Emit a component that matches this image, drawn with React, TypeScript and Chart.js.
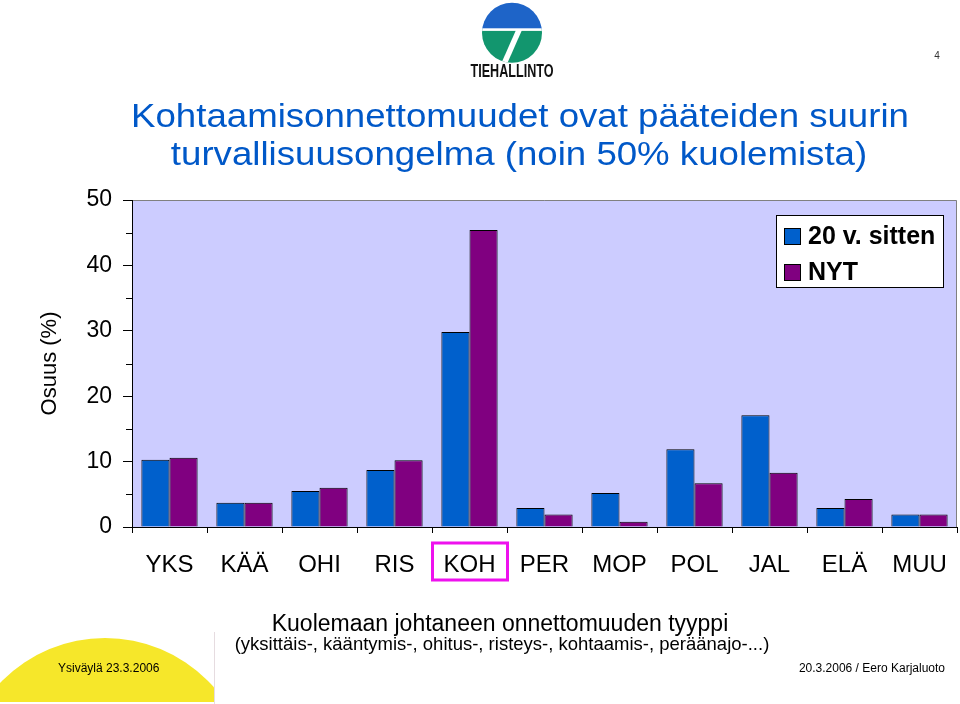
import React, { useEffect, useRef } from "react";
import { Chart, registerables } from "chart.js";

Chart.register(...registerables);

const categories = ["YKS", "KÄÄ", "OHI", "RIS", "KOH", "PER", "MOP", "POL", "JAL", "ELÄ", "MUU"];
const before20Years = [10.3, 3.7, 5.5, 8.7, 29.8, 2.9, 5.2, 11.9, 17.1, 2.9, 1.9];
const nowValues = [10.6, 3.7, 6.0, 10.2, 45.4, 1.9, 0.8, 6.7, 8.3, 4.3, 1.9];
const seriesLabels = ["20 v. sitten", "NYT"];
const highlightedCategory = "KOH";
const yMin = 0;
const yMax = 50;
const yLabelStep = 10;
const yMinorStep = 5;

const FONT = "'Liberation Sans', Arial, Helvetica, sans-serif";

const plotBackground = {
  id: "plotBackground",
  beforeDraw(chart: any) {
    const { ctx, chartArea: a } = chart;
    ctx.save();
    ctx.fillStyle = "#CCCCFF";
    ctx.fillRect(a.left, a.top, a.right - a.left, a.bottom - a.top);
    ctx.strokeStyle = "#808080";
    ctx.lineWidth = 1;
    ctx.beginPath();
    ctx.moveTo(a.left, a.top + 0.5);
    ctx.lineTo(a.right - 0.5, a.top + 0.5);
    ctx.lineTo(a.right - 0.5, a.bottom);
    ctx.stroke();
    ctx.restore();
  },
};

const minorTicks = {
  id: "minorTicks",
  afterDraw(chart: any) {
    const { ctx } = chart;
    const y = chart.scales.y;
    ctx.save();
    ctx.strokeStyle = "#000000";
    ctx.lineWidth = 1;
    y.ticks.forEach((t: any) => {
      if (t.value % yLabelStep === 0) return;
      const py = Math.round(y.getPixelForValue(t.value)) + 0.5;
      ctx.beginPath();
      ctx.moveTo(y.right - 6, py);
      ctx.lineTo(y.right, py);
      ctx.stroke();
    });
    ctx.restore();
  },
};

const boxLegend = {
  id: "boxLegend",
  afterDraw(chart: any) {
    const { ctx, chartArea: a } = chart;
    const w = 168;
    const h = 73;
    const x0 = a.right - 181;
    const y0 = a.top + 15;
    ctx.save();
    ctx.fillStyle = "#ffffff";
    ctx.fillRect(x0, y0, w, h);
    ctx.strokeStyle = "#000000";
    ctx.lineWidth = 1;
    ctx.strokeRect(x0 + 0.5, y0 + 0.5, w - 1, h - 1);
    chart.data.datasets.forEach((ds: any, i: number) => {
      const cy = y0 + 21 + i * 36;
      ctx.fillStyle = ds.backgroundColor;
      ctx.fillRect(x0 + 8, cy - 8, 17, 17);
      ctx.strokeStyle = "#000000";
      ctx.strokeRect(x0 + 8.5, cy - 7.5, 16, 16);
      ctx.fillStyle = "#000000";
      ctx.font = `bold 25px ${FONT}`;
      ctx.textBaseline = "middle";
      ctx.textAlign = "left";
      ctx.fillText(ds.label, x0 + 32, cy + 1);
    });
    ctx.restore();
  },
};

const highlightBox = {
  id: "highlightBox",
  afterDraw(chart: any) {
    const { ctx, chartArea: a } = chart;
    const idx = categories.indexOf(highlightedCategory);
    if (idx < 0) return;
    const cx = chart.scales.x.getPixelForValue(idx);
    ctx.save();
    ctx.strokeStyle = "#EE11EE";
    ctx.lineWidth = 3;
    ctx.strokeRect(cx - 37, a.bottom + 16, 75, 37);
    ctx.restore();
  },
};

function BarChart() {
  const ref = useRef<HTMLCanvasElement | null>(null);
  useEffect(() => {
    if (!ref.current) return;
    const chart = new Chart(ref.current, {
      type: "bar",
      data: {
        labels: categories,
        datasets: [
          {
            label: seriesLabels[0],
            data: before20Years,
            backgroundColor: "#0060CC",
            borderColor: "#000000",
            borderWidth: 1,
            categoryPercentage: 0.75,
            barPercentage: 1,
          },
          {
            label: seriesLabels[1],
            data: nowValues,
            backgroundColor: "#800080",
            borderColor: "#000000",
            borderWidth: 1,
            categoryPercentage: 0.75,
            barPercentage: 1,
          },
        ],
      },
      options: {
        responsive: false,
        animation: false,
        devicePixelRatio: 1,
        layout: { padding: { top: 200, right: 3, left: 0, bottom: 0 } },
        plugins: {
          legend: { display: false },
          tooltip: { enabled: false },
          title: { display: false },
        },
        scales: {
          x: {
            offset: true,
            grid: {
              offset: true,
              drawOnChartArea: false,
              drawTicks: true,
              tickLength: 6,
              color: "#000000",
            },
            border: { display: true, color: "#000000", width: 1 },
            ticks: {
              color: "#000000",
              font: { family: FONT, size: 24 },
              padding: 18,
              maxRotation: 0,
              autoSkip: false,
            },
            afterFit(scale: any) {
              scale.height = 177;
              scale.paddingLeft = 0;
              scale.paddingRight = 0;
            },
          },
          y: {
            min: yMin,
            max: yMax,
            grid: {
              drawOnChartArea: false,
              drawTicks: true,
              tickLength: 9,
              color: "#000000",
              tickColor: (c: any) =>
                c.tick && c.tick.value % yLabelStep !== 0 ? "rgba(0,0,0,0)" : "#000000",
            },
            border: { display: true, color: "#000000", width: 1 },
            ticks: {
              stepSize: yMinorStep,
              color: "#000000",
              font: { family: FONT, size: 23 },
              padding: 11,
              callback: (v: any) => (Number(v) % yLabelStep === 0 ? String(v) : ""),
            },
            title: {
              display: true,
              text: "Osuus (%)",
              color: "#000000",
              font: { family: FONT, size: 22 },
              padding: { top: 37, bottom: 0 },
            },
            afterFit(scale: any) {
              scale.width = 132;
            },
          },
        },
      },
      plugins: [plotBackground, minorTicks, boxLegend, highlightBox],
    } as any);
    return () => chart.destroy();
  }, []);
  return <canvas ref={ref} width={960} height={704} style={{ position: "absolute", left: 0, top: 0 }} />;
}

function Txt(props: {
  text: string;
  size: number;
  baseline: number;
  x: number;
  align: "left" | "center" | "right";
  color?: string;
  bold?: boolean;
  stretch?: number;
}) {
  const { text, size, baseline, x, align, color, bold, stretch } = props;
  const sx = stretch || 1;
  const style: React.CSSProperties = {
    position: "absolute",
    top: baseline - 0.8465 * size,
    fontFamily: FONT,
    fontSize: size,
    lineHeight: 1,
    whiteSpace: "nowrap",
    color: color || "#000",
    fontWeight: bold ? "bold" : "normal",
  };
  if (align === "left") {
    style.left = x;
    style.transformOrigin = "left";
    style.transform = `scaleX(${sx})`;
  } else if (align === "right") {
    style.right = 960 - x;
    style.transformOrigin = "right";
    style.transform = `scaleX(${sx})`;
  } else {
    style.left = x;
    style.transform = `translateX(-50%) scaleX(${sx})`;
  }
  return <div style={style}>{text}</div>;
}

function Logo() {
  return (
    <svg width={90} height={82} viewBox="0 0 90 82" style={{ position: "absolute", left: 467, top: 0 }}>
      <defs>
        <clipPath id="logoClip">
          <circle cx={45} cy={32.7} r={30} />
        </clipPath>
      </defs>
      <g clipPath="url(#logoClip)">
        <rect x={0} y={0} width={90} height={29} fill="#1E64C8" />
        <rect x={0} y={29} width={90} height={40} fill="#12966E" />
        <rect x={0} y={28.3} width={90} height={2.6} fill="#ffffff" />
        <polygon points="49,30 55,30 40,64 34,64" fill="#ffffff" />
      </g>
      <text
        x={45}
        y={77}
        textAnchor="middle"
        fontFamily="'Liberation Sans Narrow', 'Arial Narrow', 'Liberation Sans', Arial, sans-serif"
        fontWeight="bold"
        fontSize={19}
        textLength={83}
        lengthAdjust="spacingAndGlyphs"
        fill="#111"
      >
        TIEHALLINTO
      </text>
    </svg>
  );
}

function Footer() {
  return (
    <>
      <svg width={220} height={80} viewBox="0 0 220 80" style={{ position: "absolute", left: 0, top: 624 }}>
        <defs>
          <clipPath id="footClip">
            <rect x={0} y={0} width={214} height={78} />
          </clipPath>
        </defs>
        <circle cx={105} cy={159} r={145} fill="#F6E72A" clipPath="url(#footClip)" />
        <line x1={214.5} y1={8} x2={214.5} y2={80} stroke="#E6DCE0" strokeWidth={1} />
      </svg>
      <Txt text="Ysiväylä 23.3.2006" size={12} baseline={672} x={58} align="left" />
      <Txt text="20.3.2006 / Eero Karjaluoto" size={12} baseline={672} x={945} align="right" />
    </>
  );
}

export default function App() {
  return (
    <div style={{ position: "fixed", left: 0, top: 0, width: 960, height: 704, background: "#ffffff", overflow: "hidden" }}>
      <BarChart />
      <Logo />
      <Txt text="4" size={10} baseline={59} x={937} align="center" color="#333" />
      <Txt text="Kohtaamisonnettomuudet ovat pääteiden suurin" size={33} baseline={127} x={520} align="center" color="#0058C8" stretch={1.11} />
      <Txt text="turvallisuusongelma (noin 50% kuolemista)" size={33} baseline={165} x={519} align="center" color="#0058C8" stretch={1.11} />
      <Txt text="Kuolemaan johtaneen onnettomuuden tyyppi" size={23} baseline={631} x={500} align="center" />
      <Txt text="(yksittäis-, kääntymis-, ohitus-, risteys-, kohtaamis-, peräänajo-...)" size={18.5} baseline={651} x={502} align="center" />
      <Footer />
    </div>
  );
}
